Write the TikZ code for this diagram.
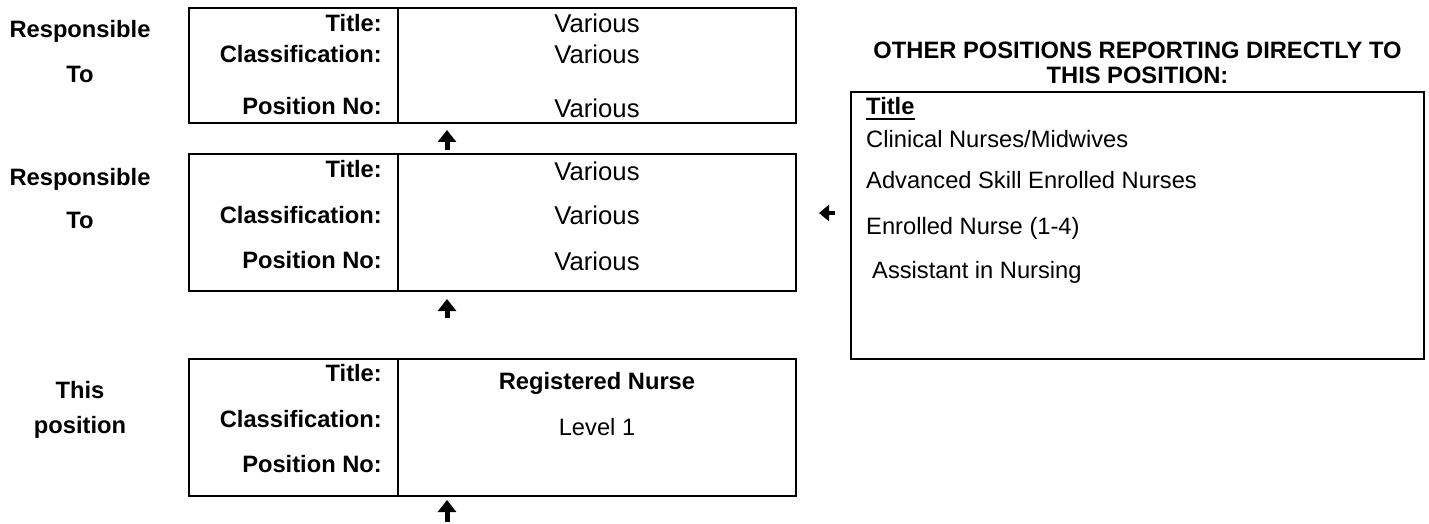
\documentclass[tikz,border=0pt]{standalone}
\usepackage{fontspec}
\setmainfont{Liberation Sans}
\usetikzlibrary{arrows.meta,calc}
\begin{document}
\begin{tikzpicture}[x=1pt,y=-1pt,
  box/.style={draw,line width=2.2pt,rectangle,inner sep=0pt,outer sep=0pt,anchor=north west},
  lab/.style={font=\bfseries\fontsize{23.7}{26}\selectfont,inner sep=0pt,anchor=base east},
  side/.style={font=\bfseries\fontsize{23.7}{26}\selectfont,inner sep=0pt,anchor=base},
  val/.style={font=\fontsize{25.7}{28}\selectfont,inner sep=0pt,anchor=base},
  valb/.style={font=\bfseries\fontsize{23.7}{26}\selectfont,inner sep=0pt,anchor=base},
  vals/.style={font=\fontsize{23.7}{26}\selectfont,inner sep=0pt,anchor=base},
  item/.style={font=\fontsize{23.7}{26}\selectfont,inner sep=0pt,anchor=base west},
  uparrow/.style={line width=5pt,-{Triangle[width=18pt,length=12pt]}},
  leftarrow/.style={line width=4.5pt,-{Triangle[width=16pt,length=10pt]}},
  divider/.style={line width=2pt}
]
\useasboundingbox (0,0) rectangle (1429,524);

% boxes
\node[box,minimum width=607pt,minimum height=115pt] (b1) at (189,8) {};
\node[box,minimum width=607pt,minimum height=137pt] (b2) at (189,154) {};
\node[box,minimum width=607pt,minimum height=137pt] (b3) at (189,359) {};
\node[box,minimum width=573pt,minimum height=267pt] (ob) at (851,92) {};

% dividers
\draw[divider] ($(b1.north west)+(209,0)$) -- ($(b1.south west)+(209,0)$);
\draw[divider] ($(b2.north west)+(209,0)$) -- ($(b2.south west)+(209,0)$);
\draw[divider] ($(b3.north west)+(209,0)$) -- ($(b3.south west)+(209,0)$);

% side labels
\node[side] (s1a) at (80,38) {Responsible};
\node[side] (s1b) at (80,83) {To};
\node[side] (s2a) at (80,185) {Responsible};
\node[side] (s2b) at (80,228) {To};
\node[side] (s3a) at (80,398) {This};
\node[side] (s3b) at (80,433) {position};

% box 1
\node[lab] (l11) at (382,32) {Title:};
\node[lab] (l12) at (382,63) {Classification:};
\node[lab] (l13) at (382,115) {Position No:};
\node[val] (v11) at (597,33) {Various};
\node[val] (v12) at (597,64) {Various};
\node[val] (v13) at (597,118) {Various};

% box 2
\node[lab] (l21) at (382,177) {Title:};
\node[lab] (l22) at (382,223) {Classification:};
\node[lab] (l23) at (382,268) {Position No:};
\node[val] (v21) at (597,180) {Various};
\node[val] (v22) at (597,224) {Various};
\node[val] (v23) at (597,270) {Various};

% box 3
\node[lab] (l31) at (382,381) {Title:};
\node[lab] (l32) at (382,427) {Classification:};
\node[lab] (l33) at (382,472) {Position No:};
\node[valb] (v31) at (597,389) {Registered Nurse};
\node[vals] (v32) at (597,435) {Level 1};

% other positions
\node[valb] (h1) at (1137.5,59) {OTHER POSITIONS REPORTING DIRECTLY TO};
\node[valb] (h2) at (1137.5,84) {THIS POSITION:};
\node[item,font=\bfseries\fontsize{23.7}{26}\selectfont] (ttl) at (866,115) {Title};
\draw[line width=1.8pt] ([yshift=-4pt]ttl.base west) -- ([yshift=-4pt]ttl.base east);
\node[item] (o1) at (866,147) {Clinical Nurses/Midwives};
\node[item] (o2) at (866,188) {Advanced Skill Enrolled Nurses};
\node[item] (o3) at (866,234) {Enrolled Nurse (1-4)};
\node[item] (o4) at (872,278) {Assistant in Nursing};

% arrows
\coordinate (a1s) at (447,150);
\coordinate (a1e) at (447,130);
\coordinate (a2s) at (447,318);
\coordinate (a2e) at (447,299);
\coordinate (a3s) at (447,522);
\coordinate (a3e) at (447,500);
\coordinate (a4s) at (835,213);
\coordinate (a4e) at (819,213);
\draw[uparrow] (a1s) -- (a1e);
\draw[uparrow] (a2s) -- (a2e);
\draw[uparrow] (a3s) -- (a3e);
\draw[leftarrow] (a4s) -- (a4e);
\end{tikzpicture}
\end{document}
